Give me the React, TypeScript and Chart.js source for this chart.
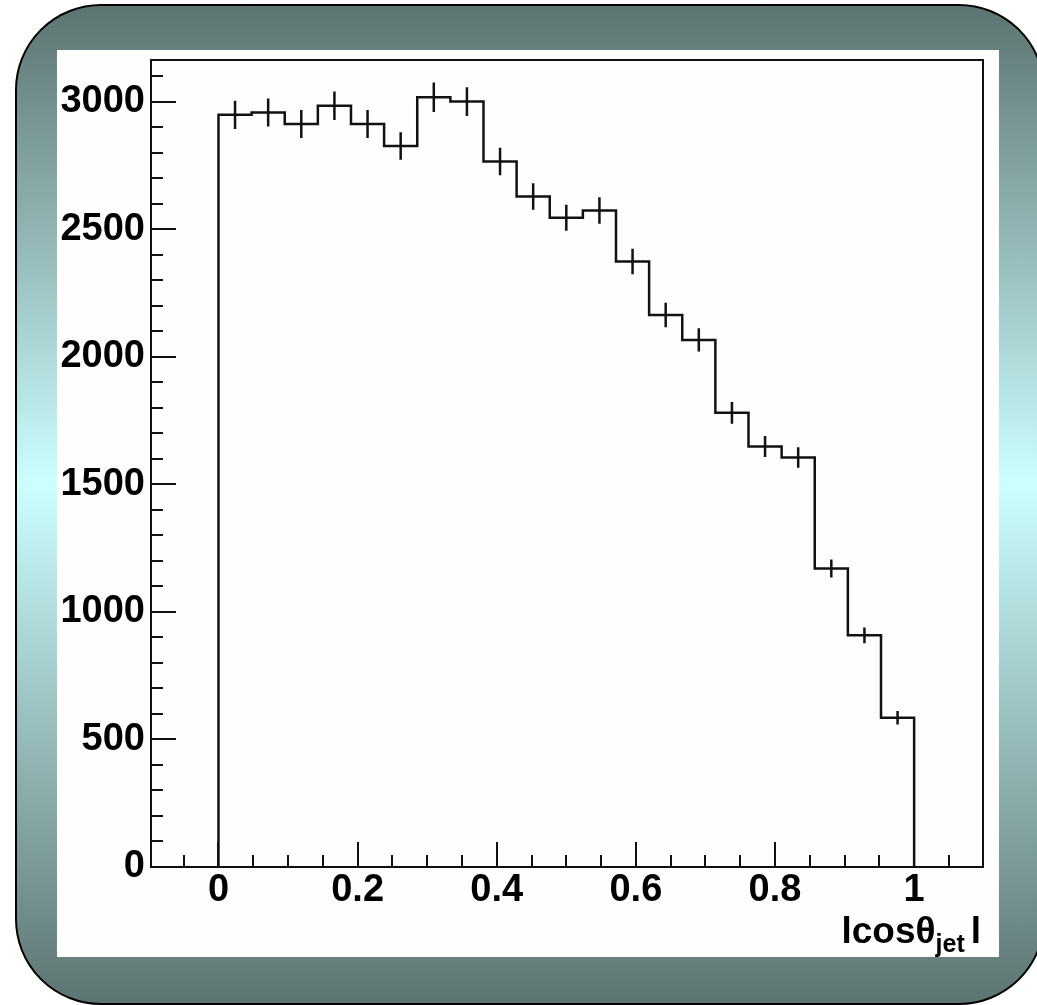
import React, { useEffect, useRef } from 'react';
import { Chart, registerables } from 'chart.js';

Chart.register(...registerables);

// ---- data ----
const binLow = 0;
const binHigh = 1;
const binValues = [2948, 2957, 2912, 2984, 2912, 2826, 3017, 3000, 2765, 2628, 2545, 2573, 2373, 2164, 2066, 1780, 1648, 1605, 1170, 908, 585];
const binErrors = [55, 55, 55, 56, 55, 54, 58, 56, 54, 52, 51, 52, 50, 48, 46, 43, 41, 40, 35, 31, 26];
const xTickValues = [0, 0.2, 0.4, 0.6, 0.8, 1];
const xTickLabels = ['0', '0.2', '0.4', '0.6', '0.8', '1'];
const yTickValues = [0, 500, 1000, 1500, 2000, 2500, 3000];
const yTickLabels = ['0', '500', '1000', '1500', '2000', '2500', '3000'];
const xRange = [-0.097, 1.099];
const yRange = [0, 3163];
const xMinorStep = 0.05;
const yMinorStep = 100;

const FONT = '"Liberation Sans", Arial, Helvetica, sans-serif';

const binWidth = (binHigh - binLow) / binValues.length;

const framePlugin = {
  id: 'rootFrame',
  afterDatasetsDraw(chart: any) {
    const { ctx, chartArea } = chart;
    const xs = chart.scales.x;
    const ys = chart.scales.y;
    const { left, right, top, bottom } = chartArea;
    ctx.save();
    ctx.strokeStyle = '#111';
    ctx.lineWidth = 2;
    ctx.strokeRect(left, top, right - left, bottom - top);
    ctx.beginPath();
    // x ticks
    for (let v = Math.ceil(xRange[0] / xMinorStep) * xMinorStep; v <= xRange[1] + 1e-9; v += xMinorStep) {
      const vv = Math.round(v * 1000) / 1000;
      const px = Math.round(xs.getPixelForValue(vv));
      const major = xTickValues.some((t) => Math.abs(t - vv) < 1e-6);
      const len = major ? 25 : 12;
      ctx.moveTo(px, bottom);
      ctx.lineTo(px, bottom - len);
    }
    // y ticks
    for (let v = yRange[0] + yMinorStep; v <= yRange[1]; v += yMinorStep) {
      const py = Math.round(ys.getPixelForValue(v));
      const major = yTickValues.includes(v);
      const len = major ? 25 : 12;
      ctx.moveTo(left, py);
      ctx.lineTo(left + len, py);
    }
    ctx.stroke();

    // axis title: |cos theta_jet|
    const titleRight = right - 2;
    const baseY = bottom + 76;
    const mainFont = `bold 37px ${FONT}`;
    const subFont = `bold 25px ${FONT}`;
    ctx.fillStyle = '#000';
    ctx.textBaseline = 'alphabetic';
    ctx.textAlign = 'left';
    ctx.font = mainFont;
    const wMain = ctx.measureText('lcosθ').width;
    const wBar = ctx.measureText('l').width;
    ctx.font = subFont;
    const wSub = ctx.measureText('jet').width;
    const gap = 6;
    const total = wMain + wSub + gap + wBar;
    let x = titleRight - total;
    ctx.font = mainFont;
    ctx.fillText('lcosθ', x, baseY);
    x += wMain;
    ctx.font = subFont;
    ctx.fillText('jet', x, baseY + 9);
    x += wSub + gap;
    ctx.font = mainFont;
    ctx.fillText('l', x, baseY);
    ctx.restore();
  },
};

export default function App() {
  const canvasRef = useRef<HTMLCanvasElement | null>(null);

  useEffect(() => {
    const canvas = canvasRef.current;
    if (!canvas) return;

    const stepData: { x: number; y: number }[] = [{ x: binLow, y: 0 }];
    binValues.forEach((v, i) => stepData.push({ x: binLow + i * binWidth, y: v }));
    stepData.push({ x: binHigh, y: 0 });

    const errData: { x: number; y: number | null }[] = [];
    binValues.forEach((v, i) => {
      const c = binLow + (i + 0.5) * binWidth;
      errData.push({ x: c, y: v - binErrors[i] });
      errData.push({ x: c, y: v + binErrors[i] });
      errData.push({ x: c, y: null });
    });

    const tickFont = { family: FONT, size: 38, weight: 'bold' as const };

    const chart = new Chart(canvas, {
      type: 'line',
      data: {
        datasets: [
          {
            data: stepData as any,
            stepped: 'before',
            borderColor: '#111',
            borderWidth: 2.5,
            pointRadius: 0,
            fill: false,
            clip: false as any,
          },
          {
            data: errData as any,
            borderColor: '#111',
            borderWidth: 2.5,
            pointRadius: 0,
            fill: false,
            spanGaps: false,
          },
        ],
      },
      options: {
        responsive: false,
        animation: false,
        events: [],
        layout: { padding: { top: 60, right: 54, bottom: 0, left: 0 } },
        plugins: { legend: { display: false }, tooltip: { enabled: false } },
        scales: {
          x: {
            type: 'linear',
            min: xRange[0],
            max: xRange[1],
            grid: { display: false, drawTicks: false },
            border: { display: false },
            ticks: {
              color: '#000',
              font: tickFont,
              padding: 1,
              maxRotation: 0,
              autoSkip: false,
              callback: (v: any) => {
                const i = xTickValues.findIndex((t) => Math.abs(t - v) < 1e-9);
                return i >= 0 ? xTickLabels[i] : '';
              },
            },
            afterBuildTicks: (s: any) => {
              s.ticks = xTickValues.map((v) => ({ value: v }));
            },
            afterFit: (s: any) => {
              s.height = 138;
            },
          },
          y: {
            type: 'linear',
            min: yRange[0],
            max: yRange[1],
            grid: { display: false, drawTicks: false },
            border: { display: false },
            ticks: {
              color: '#000',
              font: tickFont,
              padding: 6,
              autoSkip: false,
              callback: (v: any) => {
                const i = yTickValues.indexOf(v);
                return i >= 0 ? yTickLabels[i] : '';
              },
            },
            afterBuildTicks: (s: any) => {
              s.ticks = yTickValues.map((v) => ({ value: v }));
            },
            afterFit: (s: any) => {
              s.width = 151;
            },
          },
        },
      },
      plugins: [framePlugin],
    });

    return () => chart.destroy();
  }, []);

  return (
    <div style={{ position: 'absolute', left: 0, top: 0, width: 1037, height: 1005, overflow: 'hidden', background: '#fff' }}>
      <div
        style={{
          position: 'absolute',
          left: 15,
          top: 4,
          width: 1030,
          height: 1001,
          boxSizing: 'border-box',
          border: '2px solid #000',
          borderRadius: 86,
          background: 'linear-gradient(to bottom, #5c7472 0%, #ccffff 48%, #5c7472 100%)',
        }}
      />
      <div style={{ position: 'absolute', left: 57, top: 50, width: 942, height: 907, background: '#fefefe' }} />
      <canvas ref={canvasRef} width={1037} height={1005} style={{ position: 'absolute', left: 0, top: 0 }} />
    </div>
  );
}
